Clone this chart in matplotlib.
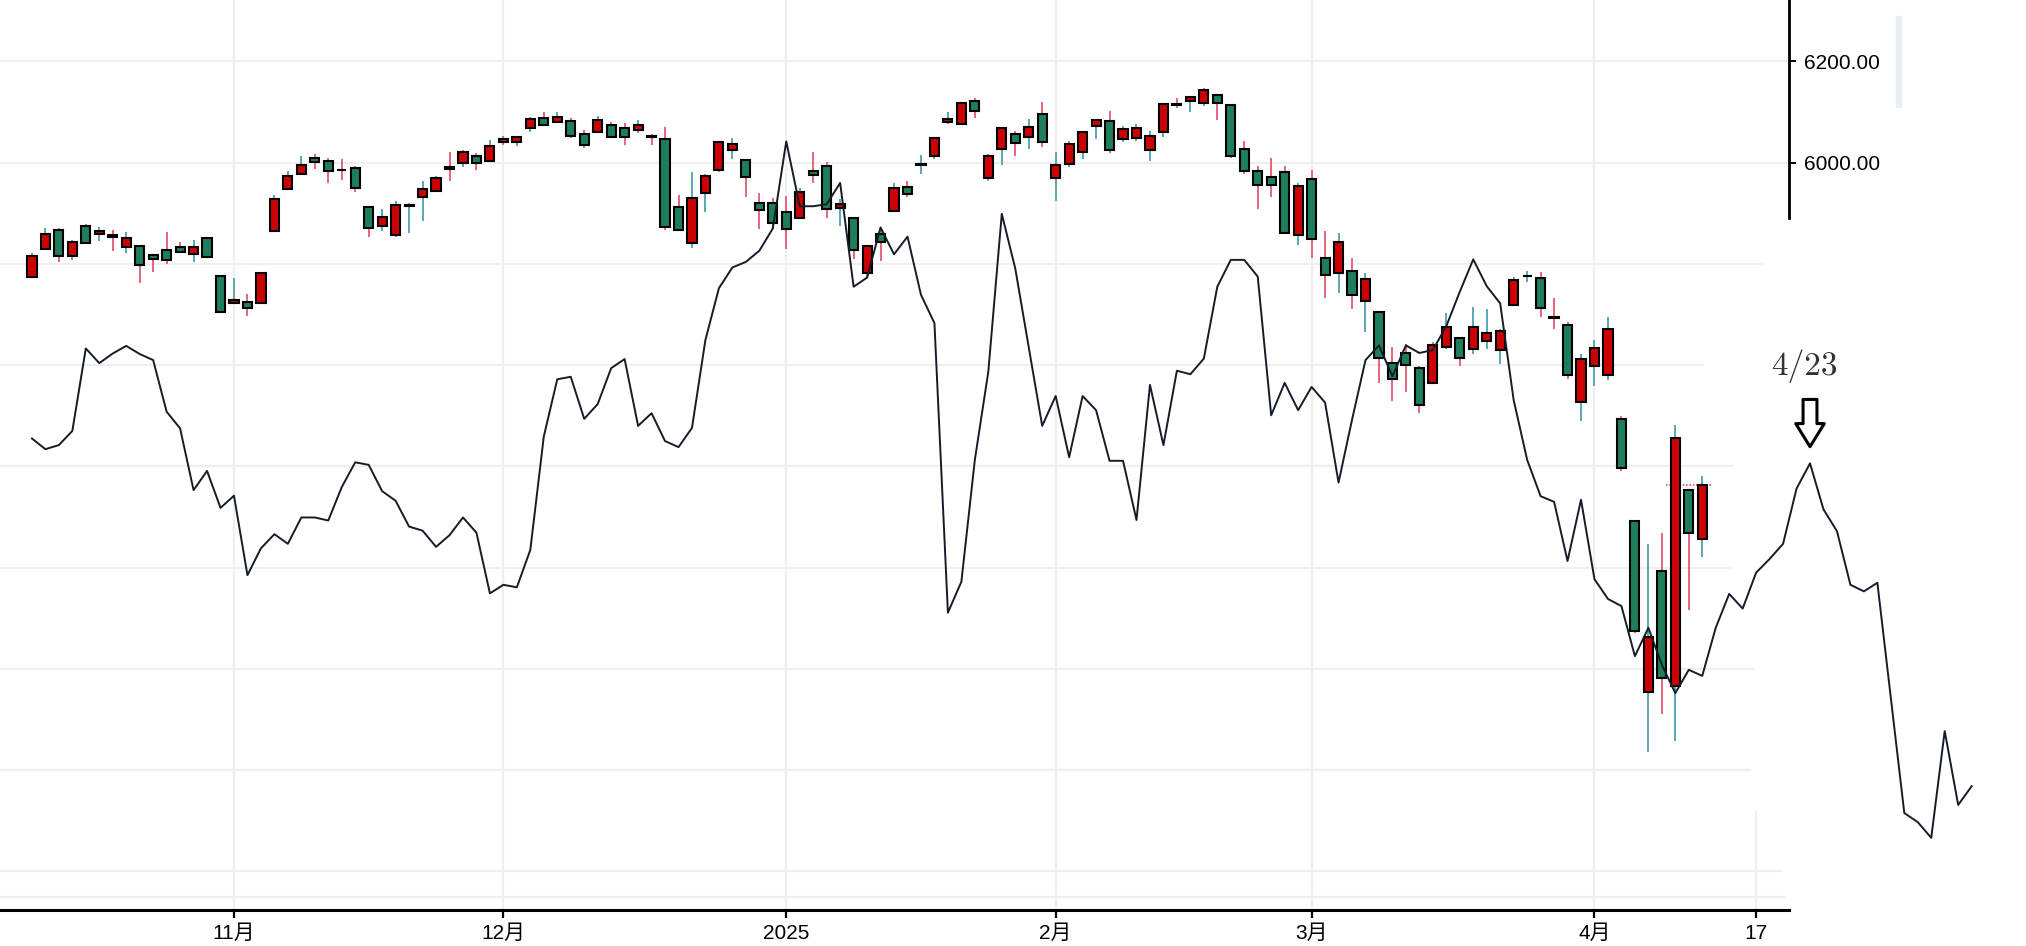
import numpy as np
import pandas as pd
import matplotlib
matplotlib.use('Agg')
from matplotlib import pyplot
from matplotlib.patches import Rectangle

# S&P 500 daily candles, 2024-10-11 .. 2025-04-11 (one entry per trading day)
opens = [
    # Oct
    5775.09, 5829.81, 5866.74, 5816.58, 5875.62, 5859.43, 5857.82, 5832.70, 5834.50, 5817.80,
    5826.75, 5833.93, 5819.68, 5850.94, 5775.34,
    # Nov
    5723.22, 5725.15, 5722.43, 5864.89, 5947.21, 5976.76, 6008.86, 6003.60, 5985.75, 5989.68,
    5912.79, 5874.17, 5857.83, 5914.00, 5932.02, 5944.36, 5992.28, 6000.03, 6014.11, 6003.98,
    # Dec
    6040.11, 6041.43, 6069.39, 6089.03, 6081.38, 6083.01, 6057.59, 6060.15, 6074.29, 6068.17,
    6063.79, 6052.55, 6047.65, 5912.71, 5842.00, 5940.25, 5984.63, 6024.97, 6006.17, 5920.67,
    5919.74,
    # Jan
    5903.26, 5891.07, 5982.81, 5993.26, 5910.66, 5890.70, 5782.12, 5859.08, 5905.21, 5951.44,
    5995.00, 6014.12, 6081.39, 6076.32, 6121.43, 5969.04, 6026.97, 6057.70, 6050.75, 6096.79,
    # Feb
    5969.65, 5998.14, 6020.45, 6072.22, 6083.13, 6046.40, 6049.32, 6025.08, 6060.59, 6115.52,
    6121.60, 6117.76, 6134.50, 6114.10, 6026.69, 5982.73, 5970.87, 5981.88, 5856.74,
    # Mar
    5968.33, 5811.98, 5781.38, 5785.87, 5726.01, 5705.37, 5603.65, 5624.84, 5594.45, 5563.85,
    5635.60, 5654.53, 5632.37, 5646.92, 5630.73, 5718.08, 5775.86, 5771.66, 5695.64, 5679.25,
    5527.91,
    # Apr
    5597.53, 5580.76, 5492.74, 5292.14, 4953.79, 5193.57, 4965.28, 5353.15, 5255.56,
]
highs = [
    5822.13, 5871.41, 5870.36, 5846.52, 5878.46, 5872.17, 5866.92, 5863.04, 5834.85, 5817.80,
    5862.82, 5842.92, 5847.19, 5850.94, 5775.34,
    5772.51, 5741.43, 5783.44, 5936.14, 5983.84, 6012.45, 6017.31, 6009.92, 6008.19, 5993.88,
    5915.20, 5908.12, 5924.30, 5920.67, 5963.13, 5972.90, 6020.75, 6025.42, 6020.16, 6044.17,
    6053.58, 6052.80, 6089.84, 6099.97, 6099.97, 6088.51, 6065.40, 6092.59, 6079.68, 6078.58,
    6085.19, 6057.68, 6070.67, 5935.52, 5982.06, 5978.25, 6040.10, 6049.75, 6006.17, 5940.79,
    5929.74,
    5935.09, 5949.34, 6021.04, 6000.68, 5927.89, 5890.70, 5838.24, 5871.92, 5960.61, 5964.69,
    6014.96, 6051.51, 6100.81, 6118.73, 6128.18, 6017.17, 6069.83, 6062.83, 6086.64, 6120.91,
    6022.13, 6042.48, 6062.86, 6084.03, 6101.28, 6073.38, 6076.28, 6063.09, 6116.91, 6127.47,
    6129.63, 6147.43, 6134.50, 6114.82, 6043.65, 5992.65, 6009.82, 5993.69, 5959.40,
    5986.09, 5865.08, 5860.59, 5812.08, 5783.01, 5705.37, 5636.30, 5642.19, 5597.78, 5645.27,
    5703.52, 5654.53, 5715.33, 5711.15, 5670.84, 5775.14, 5786.95, 5783.08, 5732.28, 5685.89,
    5621.86,
    5650.57, 5695.31, 5499.53, 5292.14, 5246.59, 5267.47, 5481.34, 5353.15, 5381.46,
]
lows = [
    5775.09, 5829.81, 5804.48, 5808.34, 5840.25, 5846.11, 5824.83, 5821.17, 5762.41, 5784.92,
    5799.98, 5823.08, 5802.84, 5811.28, 5703.41,
    5723.22, 5696.51, 5722.10, 5864.89, 5947.21, 5976.76, 5986.69, 5960.08, 5965.91, 5942.28,
    5853.01, 5865.95, 5853.01, 5860.58, 5885.26, 5944.36, 5963.91, 5992.27, 5984.87, 6003.98,
    6035.33, 6033.38, 6061.06, 6079.98, 6079.98, 6048.63, 6029.89, 6060.15, 6051.25, 6035.77,
    6059.14, 6035.19, 5867.79, 5866.07, 5832.30, 5902.57, 5981.44, 6007.37, 5932.95, 5869.16,
    5868.86,
    5829.53, 5888.66, 5960.01, 5890.68, 5874.78, 5809.05, 5773.31, 5805.94, 5905.21, 5931.43,
    5978.44, 6006.88, 6076.83, 6074.67, 6088.74, 5962.92, 5995.53, 6012.96, 6027.46, 6030.93,
    5923.93, 5990.87, 6007.06, 6046.83, 6019.96, 6040.60, 6042.34, 6003.00, 6050.77, 6107.62,
    6099.51, 6111.15, 6084.59, 6008.56, 5977.83, 5908.49, 5932.69, 5858.78, 5837.66,
    5810.91, 5732.59, 5742.35, 5711.64, 5666.29, 5564.02, 5528.41, 5546.09, 5504.65, 5563.85,
    5632.12, 5597.76, 5622.20, 5632.57, 5603.10, 5718.08, 5764.98, 5695.74, 5670.94, 5572.42,
    5488.73,
    5558.52, 5571.48, 5390.83, 5069.90, 4835.04, 4910.42, 4856.73, 5115.27, 5220.77,
]
closes = [
    5815.03, 5859.85, 5815.26, 5842.47, 5841.47, 5864.67, 5853.98, 5851.20, 5797.42, 5809.86,
    5808.12, 5823.52, 5832.92, 5813.67, 5705.45,
    5728.80, 5712.69, 5782.76, 5929.04, 5973.10, 5995.54, 6001.35, 5983.99, 5985.38, 5949.17,
    5870.62, 5893.62, 5916.98, 5917.11, 5948.71, 5969.34, 5987.37, 6021.63, 5998.74, 6032.38,
    6047.15, 6049.88, 6086.49, 6075.11, 6090.27, 6052.85, 6034.91, 6084.19, 6051.25, 6051.09,
    6074.08, 6050.61, 5872.16, 5867.08, 5930.85, 5974.07, 6040.04, 6037.59, 5970.84, 5906.94,
    5881.63,
    5868.55, 5942.47, 5975.38, 5909.03, 5918.25, 5827.04, 5836.22, 5842.91, 5949.91, 5937.34,
    5996.66, 6049.24, 6086.37, 6118.71, 6101.24, 6012.28, 6067.70, 6039.31, 6071.17, 6040.53,
    5994.57, 6037.88, 6061.48, 6083.57, 6025.99, 6066.44, 6068.50, 6051.97, 6115.07, 6114.63,
    6129.58, 6144.15, 6117.52, 6013.13, 5983.25, 5955.25, 5956.06, 5861.57, 5954.50,
    5849.72, 5778.15, 5842.63, 5738.52, 5770.20, 5614.56, 5572.07, 5599.30, 5521.52, 5638.94,
    5675.12, 5614.66, 5675.29, 5662.89, 5667.56, 5767.57, 5776.65, 5712.20, 5693.31, 5580.94,
    5611.85,
    5633.07, 5670.97, 5396.52, 5074.08, 5062.25, 4982.77, 5456.90, 5268.05, 5363.36,
]

# analog path laid over the chart, one point per trading day from 2024-10-11
analog = [
    5455, 5434, 5442, 5470, 5633, 5604, 5623, 5638, 5622, 5610,
    5508, 5475, 5353, 5391, 5318, 5342, 5185, 5238, 5266, 5247,
    5299, 5299, 5293, 5359, 5408, 5403, 5351, 5332, 5281, 5273,
    5241, 5264, 5299, 5269, 5149, 5166, 5161, 5235, 5459, 5572,
    5577, 5494, 5523, 5594, 5612, 5480, 5505, 5450, 5438, 5476,
    5650, 5752, 5793, 5804, 5826, 5870, 6042, 5914, 5914, 5918,
    5960, 5755, 5773, 5872, 5819, 5854, 5739, 5683, 5111, 5172,
    5413, 5587, 5899, 5791, 5636, 5480, 5539, 5418, 5539, 5511,
    5411, 5411, 5294, 5561, 5442, 5589, 5582, 5613, 5755, 5808,
    5808, 5775, 5501, 5565, 5511, 5557, 5526, 5368, 5492, 5610,
    5639, 5578, 5639, 5624, 5630, 5677, 5745, 5809, 5756, 5722,
    5531, 5413, 5341, 5330, 5213, 5334, 5177, 5138, 5124, 5025,
    5081, 5008, 4952, 4998, 4986, 5081, 5148, 5119, 5190, 5217,
    5247, 5356, 5406, 5315, 5272, 5166, 5153, 5170, 4942, 4715,
    4697, 4666, 4877, 4731, 4768,
]
peak_label = '4/23'

# trading-day axis (US market holidays removed)
holidays = ['2024-11-28', '2024-12-25', '2025-01-01', '2025-01-09',
            '2025-01-20', '2025-02-17', '2025-04-18']
days = pd.bdate_range('2024-10-11', '2025-05-12')
days = days[~days.isin(pd.to_datetime(holidays))]
last_tick_day = pd.Timestamp('2025-04-17')

grid_levels = [4549, 4600, 4800, 5000, 5200, 5400, 5600, 5800, 6000, 6200]
grid_ends = [0.997, 0.996, 0.978, 0.98, 0.967, 0.968, 0.952, 0.986, 1.0, 1.0]

UP_BODY, DOWN_BODY = '#cc0000', '#1e7d5a'
UP_WICK, DOWN_WICK = '#5aa6b8', '#e8647c'
GRID = '#efefef'

fig = pyplot.figure(figsize=(20.26, 9.46), dpi=100)
ax = fig.add_axes([0, 36 / 946, 1789 / 2026, 910 / 946])

o, h, l, c = map(np.array, (opens, highs, lows, closes))
x = np.arange(len(o))
up = c >= o

# grid
tick_pos, tick_lab = [], []
for i in range(1, len(days)):
    if days[i].month != days[i - 1].month and days[i] <= last_tick_day:
        tick_pos.append(i)
        tick_lab.append(str(days[i].year) if days[i].month == 1 else '{}月'.format(days[i].month))
tick_pos.append(days.get_loc(last_tick_day))
tick_lab.append(str(last_tick_day.day))

for lev, end in zip(grid_levels, grid_ends):
    ax.axhline(lev, xmin=0, xmax=end, color=GRID, lw=1.6, zorder=0)
for p in tick_pos[:-1]:
    ax.axvline(p, color=GRID, lw=1.6, zorder=0)
ax.axvline(tick_pos[-1], ymax=0.108, color=GRID, lw=1.6, zorder=0)

# candles
ax.vlines(x, l, h, colors=np.where(up, UP_WICK, DOWN_WICK), lw=1.4, zorder=2)
body = np.maximum(np.abs(c - o), 0.6)
ax.bar(x, body, bottom=np.minimum(o, c), width=0.68,
       color=np.where(up, UP_BODY, DOWN_BODY), edgecolor='black', linewidth=1.5, zorder=3)
ax.hlines(c[-1], x[-1] - 2.7, x[-1] + 0.7, colors='#e05a5a', linestyles=(0, (1, 1)), lw=1.2, zorder=2)

# analog line, runs past the right edge of the axes
xa = np.arange(len(analog))
ax.plot(xa, analog, color='#161b29', lw=1.4, zorder=4, clip_on=False)

pk = 120 + int(np.argmax(analog[120:]))
ax.annotate('', xy=(pk, analog[pk]), xytext=(0, 46), textcoords='offset points',
            annotation_clip=False,
            arrowprops=dict(arrowstyle='simple,head_length=0.83,head_width=1.03,tail_width=0.5',
                            mutation_scale=20, fc='white', ec='black', lw=2.2,
                            shrinkA=0, shrinkB=12))
ax.annotate(peak_label, xy=(pk, analog[pk]), xytext=(-4, 70), textcoords='offset points',
            ha='center', va='center', fontsize=24, family='cmr10', color='#333333',
            annotation_clip=False)

ax.set_xlim(-2.37, 130.44)
ax.set_ylim(4523.4, 6321.5)

ax.set_xticks(tick_pos)
ax.set_xticklabels(tick_lab, family=['Liberation Sans', 'Noto Sans CJK SC'], fontsize=15)
ax.yaxis.tick_right()
ax.set_yticks([6000, 6200])
ax.set_yticklabels(['{:.2f}'.format(v) for v in (6000, 6200)], family='Liberation Sans', fontsize=15)
ax.tick_params(axis='x', length=6, width=1.6, pad=4)
ax.tick_params(axis='y', length=5, width=1.4, pad=6)

for side in ('left', 'top'):
    ax.spines[side].set_visible(False)
ax.spines['bottom'].set_linewidth(2.2)
ax.spines['right'].set_linewidth(2.0)
ax.spines['right'].set_bounds(5890, 6321.5)

fig.patches.append(Rectangle((1896 / 2026, 1 - 107 / 946), 5 / 2026, 91 / 946,
                             transform=fig.transFigure, color='#e9eff5', zorder=0))

fig.savefig('out.png', dpi=100)
